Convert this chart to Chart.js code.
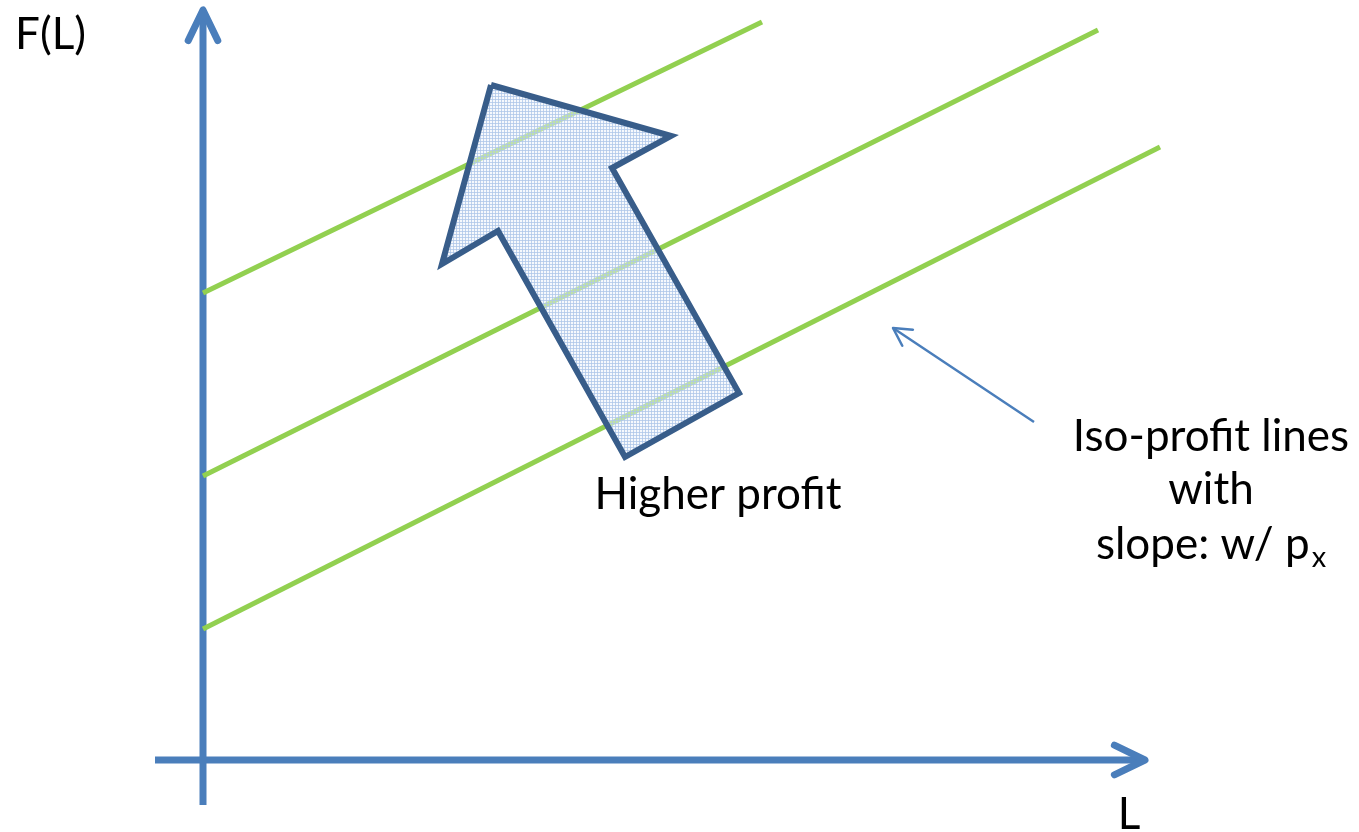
<!DOCTYPE html>
<html>
<head>
<meta charset="utf-8">
<title>Iso-profit lines</title>
<script src="https://cdn.jsdelivr.net/npm/chart.js@4.4.1/dist/chart.umd.min.js"></script>
<style>
  body { margin: 0; background: #fff; }
  #wrap { width: 1359px; height: 832px; }
</style>
</head>
<body>
<div id="wrap"><canvas id="chart"></canvas></div>
<script>
// data in diagram units (origin where the axes cross)
const yAxisPts = [{x: 0, y: -0.45}, {x: 0, y: 7.50}];
const xAxisPts = [{x: -0.48, y: 0}, {x: 9.42, y: 0}];

const iso1 = [{x: 0, y: 4.67}, {x: 5.59, y: 7.38}];
const iso2 = [{x: 0, y: 2.84}, {x: 8.95, y: 7.30}];
const iso3 = [{x: 0, y: 1.31}, {x: 9.57, y: 6.13}];

// big "higher profit" block arrow, closed polygon
const blockArrow = [
  {x: 2.88, y: 6.75}, {x: 4.68, y: 6.24}, {x: 4.09, y: 5.92},
  {x: 5.36, y: 3.67}, {x: 4.22, y: 3.03}, {x: 2.95, y: 5.29},
  {x: 2.39, y: 4.96}, {x: 2.88, y: 6.75}
];

// thin pointer to the iso-profit lines
const pointer = [{x: 8.31, y: 3.38}, {x: 6.90, y: 4.32}];

const labels = [
  {text: 'F(L)', x: -1.88, y: 7.25, align: 'left'},
  {text: 'Higher profit', x: 5.15, y: 2.65, align: 'center'},
  {text: 'Iso-profit lines', x: 10.08, y: 3.23, align: 'center'},
  {text: 'with', x: 10.08, y: 2.70, align: 'center'},
  {text: 'slope: w/ p', sub: 'x', x: 10.08, y: 2.15, align: 'center'},
  {text: 'L', x: 9.26, y: -0.55, align: 'center'}
];

const axisBlue = '#4a7ebb';
const isoGreen = '#92d050';
const arrowEdge = '#385d8a';
const fontName = 'Lato, "Open Sans", sans-serif';
const fontSize = 44;
const subSize = 29;

// light blue dotted fill for the block arrow
function dotPattern() {
  const c = document.createElement('canvas');
  c.width = 3; c.height = 3;
  const g = c.getContext('2d');
  g.fillStyle = 'rgba(238,243,251,0.5)';
  g.fillRect(0, 0, 3, 3);
  g.fillStyle = 'rgba(172,198,232,0.75)';
  g.fillRect(0, 0, 3, 1);
  g.fillRect(0, 0, 1, 3);
  return g.createPattern(c, 'repeat');
}

// chevron heads drawn on the end of datasets that have arrowHead set
const arrowHeads = {
  id: 'arrowHeads',
  afterDatasetsDraw(chart) {
    const ctx = chart.ctx;
    const xs = chart.scales.x, ys = chart.scales.y;
    chart.data.datasets.forEach(ds => {
      if (!ds.arrowHead) return;
      const n = ds.data.length;
      const a = ds.data[n - 2], b = ds.data[n - 1];
      const x1 = xs.getPixelForValue(a.x), y1 = ys.getPixelForValue(a.y);
      const x2 = xs.getPixelForValue(b.x), y2 = ys.getPixelForValue(b.y);
      const ang = Math.atan2(y2 - y1, x2 - x1);
      const len = ds.arrowHead.len, spread = ds.arrowHead.spread;
      ctx.save();
      ctx.strokeStyle = ds.borderColor;
      ctx.lineWidth = ds.arrowHead.width;
      ctx.lineCap = 'round';
      ctx.lineJoin = 'round';
      ctx.beginPath();
      ctx.moveTo(x2 - len * Math.cos(ang - spread), y2 - len * Math.sin(ang - spread));
      ctx.lineTo(x2, y2);
      ctx.lineTo(x2 - len * Math.cos(ang + spread), y2 - len * Math.sin(ang + spread));
      ctx.stroke();
      ctx.restore();
    });
  }
};

// text labels placed by data position
const textLabels = {
  id: 'textLabels',
  afterDraw(chart) {
    const ctx = chart.ctx;
    const xs = chart.scales.x, ys = chart.scales.y;
    ctx.save();
    ctx.fillStyle = '#000';
    ctx.textBaseline = 'middle';
    labels.forEach(l => {
      const px = xs.getPixelForValue(l.x), py = ys.getPixelForValue(l.y);
      ctx.font = fontSize + 'px ' + fontName;
      let w = ctx.measureText(l.text).width;
      let subW = 0;
      if (l.sub) {
        ctx.font = subSize + 'px ' + fontName;
        subW = ctx.measureText(l.sub).width + 2;
        ctx.font = fontSize + 'px ' + fontName;
      }
      let left = px;
      if (l.align === 'center') left = px - (w + subW) / 2;
      ctx.textAlign = 'left';
      ctx.fillText(l.text, left, py);
      if (l.sub) {
        ctx.font = subSize + 'px ' + fontName;
        ctx.fillText(l.sub, left + w + 2, py + 13);
      }
    });
    ctx.restore();
  }
};

function lineSet(data, color, width, order) {
  return {
    data: data,
    showLine: true,
    borderColor: color,
    borderWidth: width,
    pointRadius: 0,
    fill: false,
    order: order
  };
}

const ctx = document.querySelector('#chart').getContext('2d');

const yAxisSet = lineSet(yAxisPts, axisBlue, 7, 3);
yAxisSet.arrowHead = {len: 34, spread: 0.45, width: 7};
const xAxisSet = lineSet(xAxisPts, axisBlue, 7, 3);
xAxisSet.arrowHead = {len: 34, spread: 0.45, width: 7};
const pointerSet = lineSet(pointer, axisBlue, 2.5, 3);
pointerSet.arrowHead = {len: 20, spread: 0.5, width: 2.5};

const blockSet = lineSet(blockArrow, arrowEdge, 6, 0);
blockSet.fill = 'shape';
blockSet.backgroundColor = dotPattern();
blockSet.borderJoinStyle = 'miter';

new Chart(ctx, {
  type: 'scatter',
  data: {
    datasets: [
      blockSet,
      lineSet(iso1, isoGreen, 5, 1),
      lineSet(iso2, isoGreen, 5, 1),
      lineSet(iso3, isoGreen, 5, 1),
      yAxisSet,
      xAxisSet,
      pointerSet
    ]
  },
  options: {
    responsive: true,
    maintainAspectRatio: false,
    animation: false,
    layout: { padding: 0 },
    scales: {
      x: { type: 'linear', min: -2.03, max: 11.56, display: false },
      y: { type: 'linear', min: -0.72, max: 7.60, display: false }
    },
    plugins: {
      legend: { display: false },
      tooltip: { enabled: false }
    }
  },
  plugins: [arrowHeads, textLabels]
});
</script>
</body>
</html>
